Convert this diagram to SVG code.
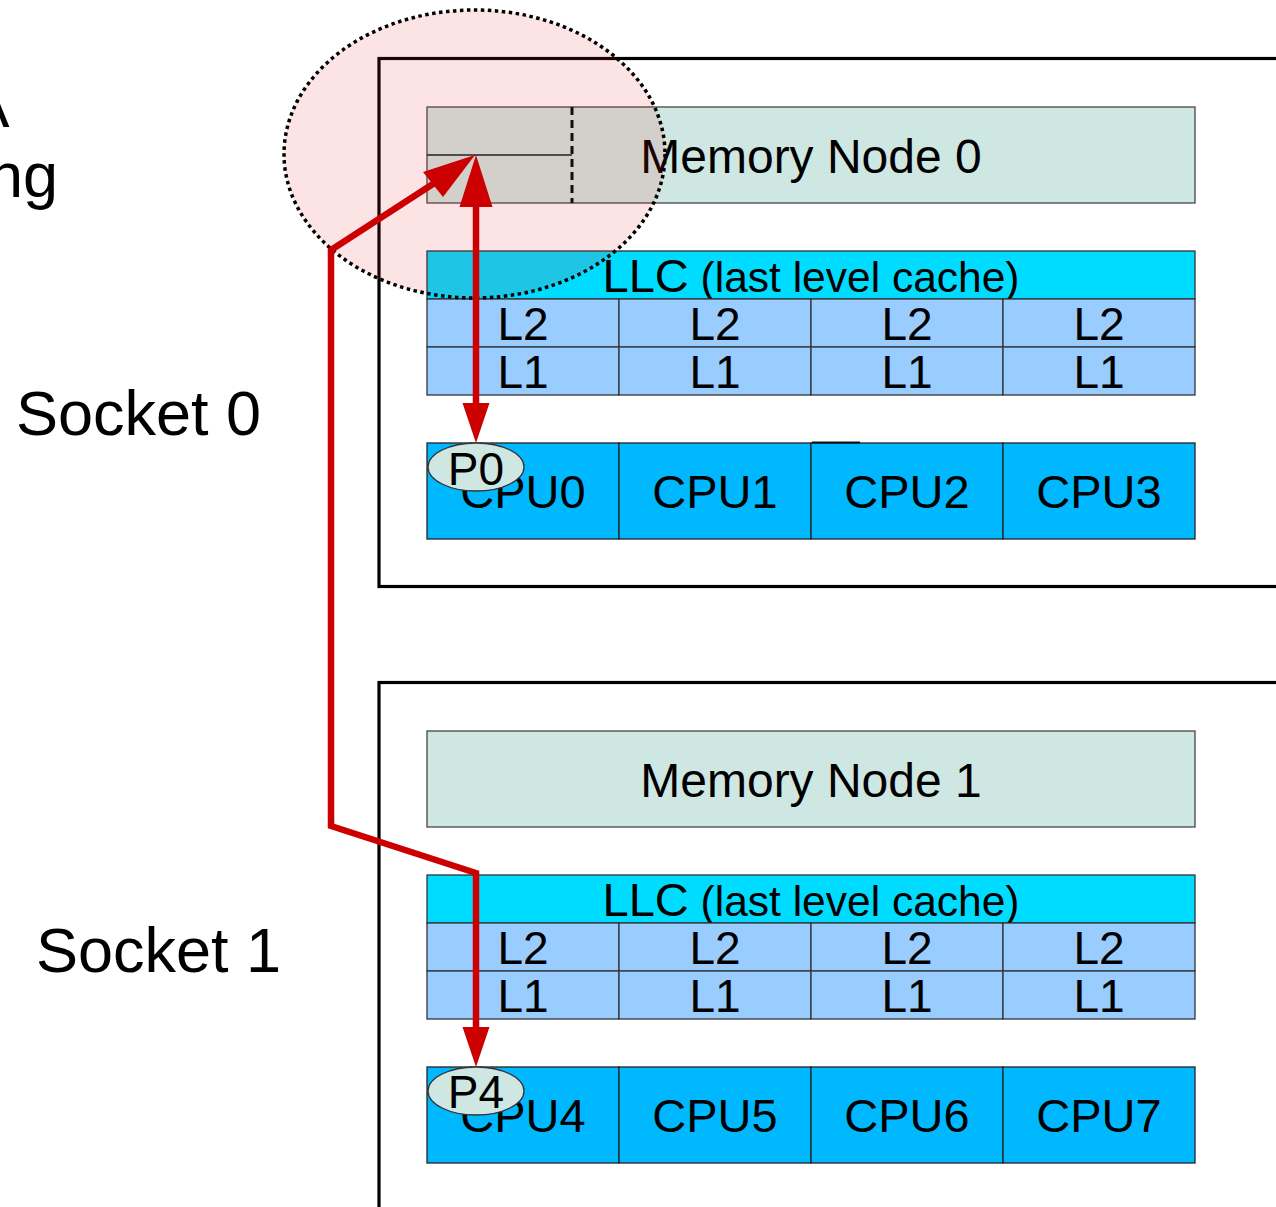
<svg xmlns="http://www.w3.org/2000/svg" width="1276" height="1207" viewBox="0 0 1276 1207">
<style>
text{font-family:"Liberation Sans",Arial,sans-serif;fill:#000}
.sock{fill:none;stroke:#000;stroke-width:3.2}
.mem{fill:#cfe7e3;stroke:#444;stroke-width:1.3}
.llc{fill:#00dcff;stroke:#333;stroke-width:1.3}
.cache{fill:#99ccff;stroke:#333;stroke-width:1.3}
.cpu{fill:#00b8ff;stroke:#222;stroke-width:1.3}
.t46{font-size:46px;text-anchor:middle}
.t47{font-size:47px;text-anchor:middle}
.t48{font-size:48px;text-anchor:middle}
.t63{font-size:63px}
.pill{fill:#cfe7e3;stroke:#333;stroke-width:1.3}
.red{fill:none;stroke:#cc0000;stroke-width:6.5;stroke-linejoin:miter}
.head{fill:#cc0000}
</style>

<g id="side-labels">
<text class="t63" x="9.5" y="127" text-anchor="end">A</text>
<text class="t63" x="58" y="197" text-anchor="end">ng</text>
<text class="t63" x="16" y="435">Socket 0</text>
<text class="t63" x="36" y="972">Socket 1</text>
</g>

<g id="socket0">
<rect class="sock" x="379" y="58.5" width="1000" height="528"/>
</g>
<g id="socket1">
<rect class="sock" x="379" y="682.5" width="1000" height="600"/>
</g>

<g id="mem0">
<rect class="mem" x="427" y="107" width="768" height="96"/>
<text class="t48" x="811" y="173">Memory Node 0</text>
</g>
<g id="mem1">
<rect class="mem" x="427" y="731" width="768" height="96"/>
<text class="t48" x="811" y="797">Memory Node 1</text>
</g>

<g id="llc0">
<rect class="llc" x="427" y="251" width="768" height="48"/>
<text x="811" y="292" text-anchor="middle"><tspan font-size="47">LLC</tspan><tspan font-size="42.5"> (last level cache)</tspan></text>
</g>
<g id="llc1">
<rect class="llc" x="427" y="875" width="768" height="48"/>
<text x="811" y="916" text-anchor="middle"><tspan font-size="47">LLC</tspan><tspan font-size="42.5"> (last level cache)</tspan></text>
</g>

<g id="caches0">
<rect class="cache" x="427" y="299" width="192" height="48"/>
<rect class="cache" x="619" y="299" width="192" height="48"/>
<rect class="cache" x="811" y="299" width="192" height="48"/>
<rect class="cache" x="1003" y="299" width="192" height="48"/>
<rect class="cache" x="427" y="347" width="192" height="48"/>
<rect class="cache" x="619" y="347" width="192" height="48"/>
<rect class="cache" x="811" y="347" width="192" height="48"/>
<rect class="cache" x="1003" y="347" width="192" height="48"/>
<text class="t46" x="523" y="340">L2</text>
<text class="t46" x="715" y="340">L2</text>
<text class="t46" x="907" y="340">L2</text>
<text class="t46" x="1099" y="340">L2</text>
<text class="t46" x="523" y="388">L1</text>
<text class="t46" x="715" y="388">L1</text>
<text class="t46" x="907" y="388">L1</text>
<text class="t46" x="1099" y="388">L1</text>
</g>
<g id="caches1">
<rect class="cache" x="427" y="923" width="192" height="48"/>
<rect class="cache" x="619" y="923" width="192" height="48"/>
<rect class="cache" x="811" y="923" width="192" height="48"/>
<rect class="cache" x="1003" y="923" width="192" height="48"/>
<rect class="cache" x="427" y="971" width="192" height="48"/>
<rect class="cache" x="619" y="971" width="192" height="48"/>
<rect class="cache" x="811" y="971" width="192" height="48"/>
<rect class="cache" x="1003" y="971" width="192" height="48"/>
<text class="t46" x="523" y="964">L2</text>
<text class="t46" x="715" y="964">L2</text>
<text class="t46" x="907" y="964">L2</text>
<text class="t46" x="1099" y="964">L2</text>
<text class="t46" x="523" y="1012">L1</text>
<text class="t46" x="715" y="1012">L1</text>
<text class="t46" x="907" y="1012">L1</text>
<text class="t46" x="1099" y="1012">L1</text>
</g>

<g id="cpu0"><rect class="cpu" x="427" y="443" width="192" height="96"/><text class="t47" x="523" y="508">CPU0</text></g>
<g id="cpu1"><rect class="cpu" x="619" y="443" width="192" height="96"/><text class="t47" x="715" y="508">CPU1</text></g>
<g id="cpu2"><rect class="cpu" x="811" y="443" width="192" height="96"/><text class="t47" x="907" y="508">CPU2</text><line x1="812" y1="442.5" x2="860" y2="442.5" stroke="#111" stroke-width="2"/></g>
<g id="cpu3"><rect class="cpu" x="1003" y="443" width="192" height="96"/><text class="t47" x="1099" y="508">CPU3</text></g>
<g id="cpu4"><rect class="cpu" x="427" y="1067" width="192" height="96"/><text class="t47" x="523" y="1132">CPU4</text></g>
<g id="cpu5"><rect class="cpu" x="619" y="1067" width="192" height="96"/><text class="t47" x="715" y="1132">CPU5</text></g>
<g id="cpu6"><rect class="cpu" x="811" y="1067" width="192" height="96"/><text class="t47" x="907" y="1132">CPU6</text></g>
<g id="cpu7"><rect class="cpu" x="1003" y="1067" width="192" height="96"/><text class="t47" x="1099" y="1132">CPU7</text></g>

<g id="local-region">
<ellipse cx="474.5" cy="154" rx="190.5" ry="144" fill="rgb(239,39,39)" fill-opacity="0.125"/>
<line x1="427" y1="155" x2="572" y2="155" stroke="#222" stroke-width="1.5"/>
<line x1="572" y1="107" x2="572" y2="203" stroke="#111" stroke-width="3" stroke-dasharray="8 5"/>
<ellipse cx="474.5" cy="154" rx="190.5" ry="144" fill="none" stroke="#000" stroke-width="3.5" stroke-dasharray="3.5 3.5"/>
</g>

<g id="connectors">
<polyline class="red" points="436,182 331,250 331,826 476,873 476,1030"/>
<polygon class="head" points="476,1067 462.5,1027 489.5,1027"/>
<line class="red" x1="476" y1="200" x2="476" y2="405"/>
<polygon class="head" points="476,155 459.5,207 492.5,207"/>
<polygon class="head" points="476,443 462.5,403 489.5,403"/>
<polygon class="head" points="475,155 423,172 443,197"/>
</g>

<g id="p0">
<ellipse class="pill" cx="476" cy="467" rx="48" ry="24"/>
<text class="t46" x="476" y="485">P0</text>
</g>
<g id="p4">
<ellipse class="pill" cx="476" cy="1091" rx="48" ry="24"/>
<text class="t46" x="476" y="1108">P4</text>
</g>
</svg>
